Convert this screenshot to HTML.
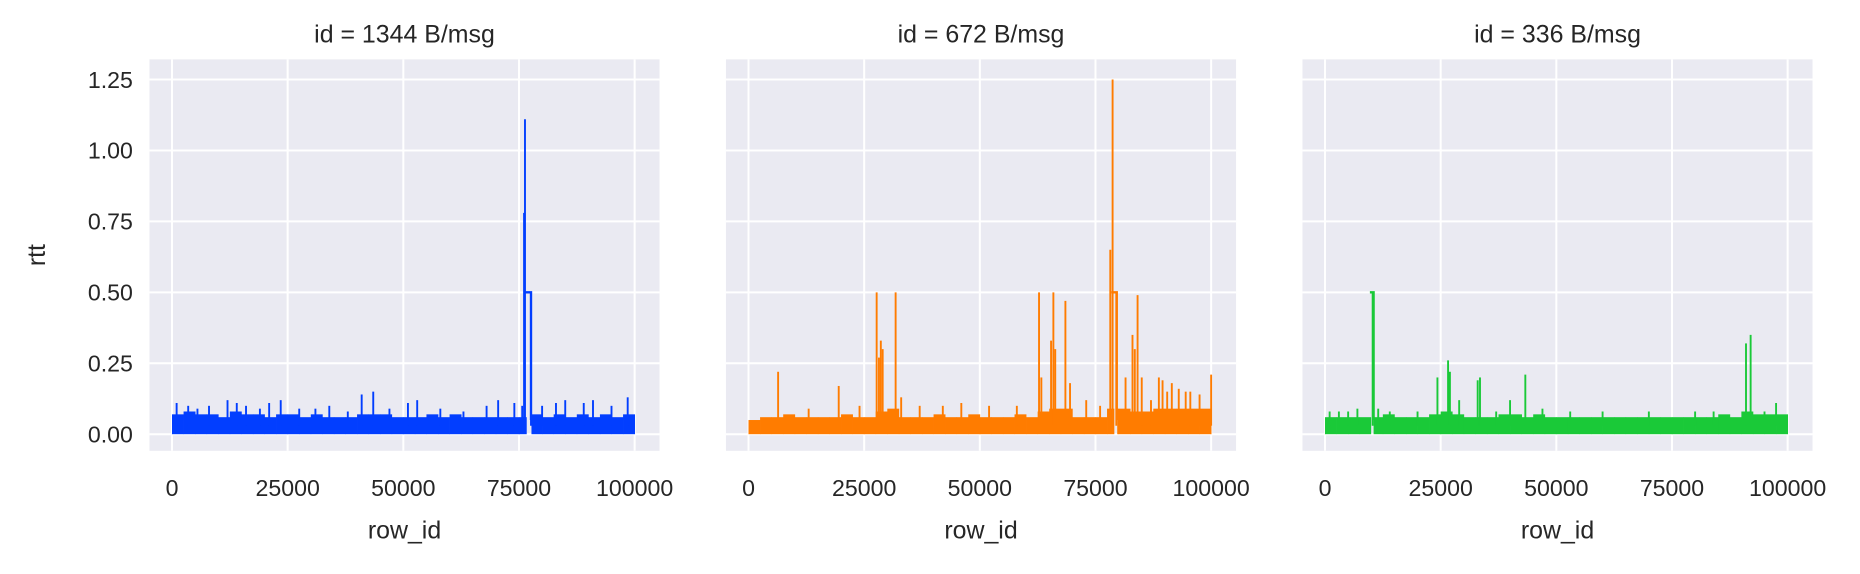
<!DOCTYPE html>
<html><head><meta charset="utf-8"><style>
body{margin:0;background:#fff;}
svg text{font-family:"Liberation Sans",sans-serif;fill:#262626;}
</style></head><body>
<svg id="chart" width="1860" height="569" viewBox="0 0 1568 479.6" xmlns="http://www.w3.org/2000/svg"></svg>
<script>
const panelTitles = ["id = 1344 B/msg", "id = 672 B/msg", "id = 336 B/msg"];
const colors = ["#023eff", "#ff7c00", "#1ac938"];
const xTicks = [0, 25000, 50000, 75000, 100000];
const yTicks = [0, 0.25, 0.5, 0.75, 1.0, 1.25];
const yTickLabels = ["0.00", "0.25", "0.50", "0.75", "1.00", "1.25"];
// base noise envelope per 2500-row bin (40 bins)
const base1 = [0.07,0.08,0.07,0.07,0.06,0.08,0.07,0.07,0.06,0.07,0.07,0.06,0.07,0.06,0.06,0.06,0.07,0.07,0.07,0.06,0.06,0.06,0.07,0.06,0.07,0.06,0.06,0.06,0.06,0.06,0.06,0.07,0.06,0.07,0.06,0.07,0.06,0.07,0.06,0.07];
const base2 = [0.05,0.06,0.06,0.07,0.06,0.06,0.06,0.06,0.07,0.06,0.06,0.08,0.09,0.06,0.06,0.06,0.07,0.06,0.06,0.07,0.06,0.06,0.06,0.07,0.06,0.08,0.09,0.09,0.06,0.06,0.06,0.09,0.09,0.08,0.08,0.09,0.09,0.09,0.09,0.09];
const base3 = [0.06,0.06,0.06,0.06,0.06,0.07,0.06,0.06,0.06,0.07,0.08,0.07,0.06,0.06,0.06,0.07,0.07,0.06,0.07,0.06,0.06,0.06,0.06,0.06,0.06,0.06,0.06,0.06,0.06,0.06,0.06,0.06,0.06,0.06,0.07,0.06,0.08,0.07,0.07,0.07];
// gaps in the base band: [start row, end row]
const gaps = [[76600,77700],[79000,79700],[9900,10500]];
// spikes: [row_id, rtt]
const spikes1 = [[1000,0.11],[3500,0.1],[5500,0.09],[8000,0.1],[12000,0.12],[14000,0.11],[16000,0.1],[19000,0.09],[21000,0.11],[23500,0.12],[27500,0.09],[31000,0.09],[34000,0.1],[38000,0.08],[41000,0.14],[43500,0.15],[47000,0.09],[51000,0.11],[53000,0.12],[58000,0.09],[63000,0.08],[68000,0.1],[70500,0.12],[74000,0.11],[75700,0.1],[76300,1.11],[76100,0.78],[77600,0.5],[80000,0.1],[83000,0.11],[85000,0.12],[89000,0.11],[91000,0.12],[95000,0.1],[98500,0.13]];
const spikes2 = [[6400,0.22],[13000,0.09],[19500,0.17],[24000,0.1],[27700,0.5],[28200,0.27],[28600,0.33],[29000,0.3],[31800,0.5],[33000,0.13],[37000,0.1],[42000,0.1],[46000,0.11],[52000,0.1],[58000,0.1],[62800,0.5],[63300,0.2],[65400,0.33],[65900,0.5],[66300,0.3],[68500,0.47],[69500,0.18],[73000,0.12],[76000,0.1],[78200,0.65],[78700,1.25],[79500,0.5],[81500,0.2],[83000,0.35],[83500,0.3],[84100,0.49],[85000,0.2],[87000,0.12],[88700,0.2],[89500,0.19],[90500,0.15],[91500,0.18],[93000,0.16],[94500,0.15],[95500,0.15],[97500,0.14],[100000,0.21]];
const spikes3 = [[1000,0.08],[3000,0.08],[5000,0.08],[7000,0.09],[10300,0.5],[11500,0.09],[14000,0.08],[20000,0.08],[24300,0.2],[26600,0.26],[27000,0.22],[29000,0.12],[33000,0.19],[33500,0.2],[37000,0.08],[40000,0.12],[43300,0.21],[47000,0.09],[53000,0.08],[60000,0.08],[70000,0.08],[80000,0.08],[84000,0.08],[91000,0.32],[92000,0.35],[95000,0.08],[97500,0.11]];
// plateaus: [x start, x end, rtt]
const plateaus = [[[76300,77600,0.5]], [[78400,79600,0.5]], [[9700,10500,0.5]]];

const bases=[base1,base2,base3], spikes=[spikes1,spikes2,spikes3];
const NS="http://www.w3.org/2000/svg";
const svg=document.getElementById('chart');
function mk(tag,attrs,parent){const e=document.createElementNS(NS,tag);for(const k in attrs)e.setAttribute(k,attrs[k]);(parent||svg).appendChild(e);return e;}
const panelLeft=[126,612,1098], pw=430, plotTop=50, plotBottom=380;
const x0off=[145,631,1117], xScaleW=390;
const yS=v=>366-v*239.2;
for(let p=0;p<3;p++){
  const g=mk('g',{});
  
  
  const xS=v=>x0off[p]+v/100000*xScaleW;
  const bg=mk('rect',{x:panelLeft[p],y:plotTop,width:pw,height:plotBottom-plotTop,fill:'#eaeaf2'},g);
  
  
  xTicks.forEach((t,i)=>{
    const l=mk('line',{x1:xS(t),x2:xS(t),y1:plotTop,y2:plotBottom,stroke:'#fff','stroke-width':1.7},g);
    
    
    const tx=mk('text',{x:xS(t),y:plotBottom+38,'font-size':19.5,'text-anchor':'middle'},g);
    tx.textContent=t;
    
    
  });
  yTicks.forEach((t,i)=>{
    const l=mk('line',{x1:panelLeft[p],x2:panelLeft[p]+pw,y1:yS(t),y2:yS(t),stroke:'#fff','stroke-width':1.7},g);
    
    
    if(p===0){
      const tx=mk('text',{x:112,y:yS(t)+7,'font-size':19.5,'text-anchor':'end'},g);
      tx.textContent=yTickLabels[i];
      
      
    }
  });
  const c=colors[p];
  const gp=gaps[p];
  bases[p].forEach((v,i)=>{
    if(v<=0)return;
    const a=i*2500, b=(i+1)*2500;
    let pieces=[[a,b]];
    if(gp[1]>a && gp[0]<b){ pieces=[]; if(gp[0]>a)pieces.push([a,gp[0]]); if(gp[1]<b)pieces.push([gp[1],b]); }
    pieces.forEach(pc=>{
      const x1=xS(pc[0]), x2=xS(pc[1]);
      const r=mk('rect',{x:x1,y:yS(v),width:Math.max(0,x2-x1+0.3),height:yS(0)-yS(v),fill:c},g);
      
      
    });
  });
  spikes[p].forEach(s=>{
    const l=mk('line',{x1:xS(s[0]),x2:xS(s[0]),y1:yS(0.03),y2:yS(s[1]),stroke:c,'stroke-width':1.6},g);
    
    
  });
  plateaus[p].forEach(s=>{
    const l=mk('polyline',{points:`${xS(s[0])},${yS(s[2])} ${xS(s[1])},${yS(s[2])} ${xS(s[1])},${yS(0.05)}`,fill:'none',stroke:c,'stroke-width':2},g);
    
    
  });
  const ti=mk('text',{x:panelLeft[p]+pw/2,y:36,'font-size':21,'text-anchor':'middle'},g);
  ti.textContent=panelTitles[p];
  
  
  const xl=mk('text',{x:panelLeft[p]+pw/2,y:454,'font-size':21,'text-anchor':'middle'},g);
  xl.textContent='row_id';
  
  
}
const yl=mk('text',{x:38,y:215,'font-size':21,'text-anchor':'middle',transform:'rotate(-90 38 215)'});
yl.textContent='rtt';


</script>
</body></html>
